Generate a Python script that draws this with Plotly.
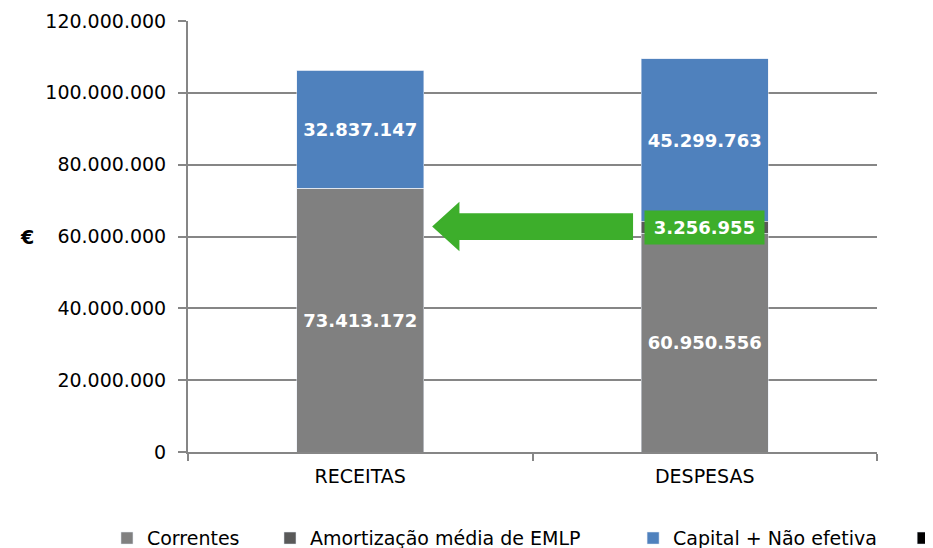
import plotly.graph_objects as go

categories = ["RECEITAS", "DESPESAS"]
correntes = [73413172, 60950556]
amortizacao = [0, 3256955]
capital = [32837147, 45299763]
extra = [0, 0]

series_names = ["Correntes", "Amortização média de EMLP", "Capital + Não efetiva", " "]
series_colors = ["#808080", "#595959", "#4F81BD", "#000000"]
y_ticks = [0, 20000000, 40000000, 60000000, 80000000, 100000000, 120000000]

def fmt(v):
    return f"{v:,}".replace(",", ".")

GREEN = "#3DAE2B"
BAR_FRAC = 0.37
LABEL_FONT = dict(family="DejaVu Sans", size=18, color="white", weight="bold")
legend_ids = ["legend", "legend2", "legend3", "legend4"]
legend_x = [-0.1176, 0.119, 0.646, 1.038]

fig = go.Figure()
fig.add_trace(go.Bar(
    x=categories, y=correntes, name=series_names[0], marker_color=series_colors[0],
    text=[fmt(v) for v in correntes], textposition="inside", insidetextanchor="middle",
    textfont=LABEL_FONT, constraintext="none", cliponaxis=False, legend=legend_ids[0]))
fig.add_trace(go.Bar(
    x=categories, y=amortizacao, name=series_names[1], marker_color=series_colors[1],
    legend=legend_ids[1]))
fig.add_trace(go.Bar(
    x=categories, y=capital, name=series_names[2], marker_color=series_colors[2],
    text=[fmt(v) for v in capital], textposition="inside", insidetextanchor="middle",
    textfont=LABEL_FONT, constraintext="none", cliponaxis=False, legend=legend_ids[2]))
fig.add_trace(go.Bar(
    x=categories, y=extra, name=series_names[3], marker_color=series_colors[3],
    legend=legend_ids[3]))

# green label for amortização (DESPESAS)
amort_center = correntes[1] + amortizacao[1] / 2
fig.add_annotation(
    x=categories[1], y=amort_center, text=fmt(amortizacao[1]), showarrow=False,
    font=LABEL_FONT, bgcolor=GREEN, width=113, height=27, borderpad=3)

# green arrow (decoration) from DESPESAS towards RECEITAS, at amortização level
half_bar_paper = BAR_FRAC / 2 / len(categories)
tip_x = 0.25 + half_bar_paper + 0.014
head_x = tip_x + 0.036
body_end = 0.75 - half_bar_paper - 0.013
yr = 120000000
body_h = 3.45e6
head_h = 6.25e6
yc = amort_center + 0.2e6
path = (f"M {body_end},{yc + body_h} L {head_x},{yc + body_h} L {head_x},{yc + head_h} "
        f"L {tip_x},{yc} L {head_x},{yc - head_h} L {head_x},{yc - body_h} "
        f"L {body_end},{yc - body_h} Z")
fig.add_shape(type="path", path=path, xref="paper", yref="y",
              fillcolor=GREEN, line=dict(color=GREEN, width=2), layer="above")

fig.add_annotation(x=-0.247, y=60000000, xref="paper", yref="y", text="€",
                   showarrow=False, font=dict(family="DejaVu Sans", size=19, color="black", weight="bold"))

legend_common = dict(orientation="h", xanchor="left", y=-0.2, yanchor="middle",
                     font=dict(family="DejaVu Sans", size=19, color="#000000"),
                     itemwidth=30, bgcolor="rgba(0,0,0,0)")

fig.update_layout(
    barmode="stack", bargap=1 - BAR_FRAC,
    width=925, height=540,
    margin=dict(l=180, r=56, t=13, b=96, autoexpand=False),
    plot_bgcolor="white", paper_bgcolor="white",
    font=dict(family="DejaVu Sans", size=17, color="#000000"),
    showlegend=True,
    legend=dict(x=legend_x[0], **legend_common),
    legend2=dict(x=legend_x[1], **legend_common),
    legend3=dict(x=legend_x[2], **legend_common),
    legend4=dict(x=legend_x[3], **legend_common),
    xaxis=dict(showline=True, linecolor="#868686", linewidth=2, ticks="outside",
               tickson="boundaries", ticklen=7, tickwidth=2, tickcolor="#868686",
               tickfont=dict(family="DejaVu Sans", size=19), showgrid=False,
               automargin=False, ticklabelstandoff=6),
    yaxis=dict(range=[0, yr], tickvals=y_ticks, ticktext=[fmt(v) for v in y_ticks],
               showline=True, linecolor="#868686", linewidth=2, ticks="outside",
               ticklen=8, tickwidth=2, tickcolor="#868686",
               gridcolor="#868686", gridwidth=1.5, automargin=False,
               tickfont=dict(family="DejaVu Sans", size=19), zeroline=False,
               ticklabelstandoff=8),
)

fig.write_html("out.html")
